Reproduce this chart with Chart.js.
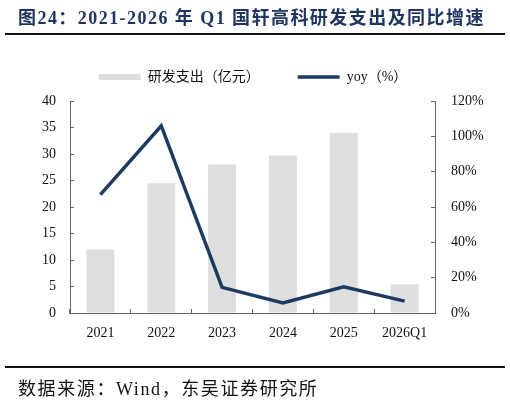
<!DOCTYPE html>
<html>
<head>
<meta charset="utf-8">
<script src="https://cdn.jsdelivr.net/npm/chart.js@4/dist/chart.umd.min.js"></script>
<style>
  body { margin: 0; background: #fff; }
  #wrap { position: relative; width: 510px; height: 402px; overflow: hidden; }
  #chart { position: absolute; left: 0; top: 0; }
  .title {
    position: absolute; left: 18px; top: 3px; white-space: nowrap;
    font: bold 18px "Liberation Serif", "Noto Sans CJK SC";
    color: #1f3560; letter-spacing: 1.45px;
  }
  .rule { position: absolute; left: 5px; width: 500px; background: #111; }
  .source {
    position: absolute; left: 18px; top: 374px; white-space: nowrap;
    font: 18px "Liberation Serif", "Noto Sans CJK SC"; color: #111;
    letter-spacing: 1.6px;
  }
</style>
</head>
<body>
<div id="wrap">
  <canvas id="chart" width="510" height="402"></canvas>
  <div class="title">图24：2021-2026 年 Q1 国轩高科研发支出及同比增速</div>
  <div class="rule" style="top:33px;height:2px"></div>
  <div class="rule" style="top:366px;height:1.5px"></div>
  <div class="source">数据来源：Wind，东吴证券研究所</div>
</div>
<script>
const categories = ["2021", "2022", "2023", "2024", "2025", "2026Q1"];
const rdSpend = [12.0, 24.5, 28.0, 29.7, 34.0, 5.4];   // 亿元
const yoyPct = [67, 106, 14.5, 5.7, 14.8, 6.7];        // %
const leftMax = 40, leftStep = 5;
const rightMax = 120, rightStep = 20;

const fontFamily = '"Liberation Serif", "Noto Sans CJK SC"';
const axisColor = "#666";

new Chart(document.getElementById("chart"), {
  data: {
    labels: categories,
    datasets: [
      {
        type: "line",
        label: "yoy（%）",
        data: yoyPct,
        yAxisID: "y1",
        borderColor: "#1d3a60",
        borderWidth: 3.5,
        pointRadius: 0,
        pointStyle: "line",
        tension: 0,
      },
      {
        type: "bar",
        label: "研发支出（亿元）",
        data: rdSpend,
        yAxisID: "y",
        backgroundColor: "#dedede",
        borderWidth: 0,
        pointStyle: "rect",
        categoryPercentage: 1,
        barPercentage: 0.46,
      },
    ],
  },
  options: {
    responsive: false,
    animation: false,
    layout: { padding: { top: 32, right: 4, left: 0, bottom: 0 } },
    plugins: {
      legend: {
        display: true,
        reverse: true,
        labels: {
          usePointStyle: true,
          pointStyleWidth: 42,
          boxHeight: 6,
          padding: 38,
          color: "#111",
          font: { family: fontFamily, size: 14 },
        },
      },
      // spacer between legend and plot area
      subtitle: {
        display: true,
        text: "",
        weight: 500,
        font: { size: 1, lineHeight: 1 },
        padding: { top: 6, bottom: 0 },
      },
      tooltip: { enabled: false },
    },
    scales: {
      x: {
        grid: { drawOnChartArea: false, tickLength: -4, color: axisColor },
        border: { color: axisColor },
        ticks: { padding: 16, color: "#111", font: { family: fontFamily, size: 14 } },
        afterFit: (s) => { s.height = 89; },
      },
      y: {
        position: "left",
        min: 0,
        max: leftMax,
        grid: { drawOnChartArea: false, tickLength: -4, color: axisColor },
        border: { color: axisColor },
        ticks: { stepSize: leftStep, padding: 18, color: "#111", font: { family: fontFamily, size: 14 } },
        afterFit: (s) => { s.width = 70; },
      },
      y1: {
        position: "right",
        min: 0,
        max: rightMax,
        grid: { drawOnChartArea: false, tickLength: -4, color: axisColor },
        border: { color: axisColor },
        ticks: {
          stepSize: rightStep,
          padding: 20,
          color: "#111",
          font: { family: fontFamily, size: 14 },
          callback: (v) => v + "%",
        },
        afterFit: (s) => { s.width = 71; },
      },
    },
  },
});
</script>
</body>
</html>
